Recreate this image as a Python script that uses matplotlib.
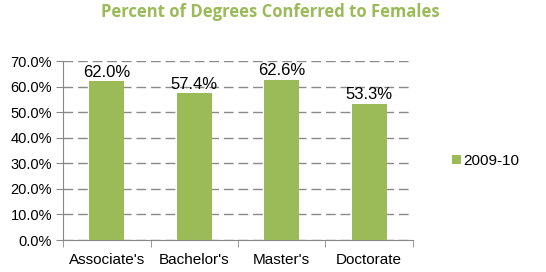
import numpy as np
import matplotlib
matplotlib.use("Agg")
import matplotlib.pyplot as plt
from matplotlib.ticker import FuncFormatter, FixedLocator

categories = ["Associate's", "Bachelor's", "Master's", "Doctorate"]
values = [62.0, 57.4, 62.6, 53.3]
series = "2009-10"
green = '#9bbb59'

plt.rcParams['font.family'] = ['Liberation Sans', 'DejaVu Sans']

fig = plt.figure(figsize=(5.46, 2.72), dpi=100)
ax = fig.add_axes([0.1154, 0.1176, 0.6410, 0.6581])

x = np.arange(len(categories))
bars = ax.bar(x, values, width=0.4, color=green, label=series, zorder=3)
for b, v in zip(bars, values):
    ax.text(b.get_x() + b.get_width() / 2, v + 0.6, f"{v:.1f}%",
            ha='center', va='bottom', fontsize=12, color='black', zorder=4)

ax.set_xlim(-0.5, len(categories) - 0.5)
ax.set_ylim(0, 70)
ax.set_yticks(np.arange(0, 71, 10))
ax.yaxis.set_major_formatter(FuncFormatter(lambda v, p: f"{v:.1f}%"))
ax.set_xticks(x)
ax.set_xticklabels(categories, fontsize=11)
ax.xaxis.set_minor_locator(FixedLocator(np.arange(-0.5, len(categories), 1)))
ax.tick_params(axis='x', which='major', length=0, pad=9)
ax.tick_params(axis='x', which='minor', length=5, color='#888888', direction='out')
ax.tick_params(axis='y', length=5, color='#888888', labelsize=10.5, pad=3)

ax.grid(axis='y', linestyle=(0, (7, 3.5)), color='#8a8a8a', linewidth=1, zorder=0)
for s in ['top', 'right']:
    ax.spines[s].set_visible(False)
ax.spines['left'].set_color('#888888')
ax.spines['bottom'].set_color('#888888')

fig.text(0.495, 0.955, "Percent of Degrees Conferred to Females", ha='center', va='center',
         fontsize=12, fontweight='bold', color=green, family=['Open Sans', 'DejaVu Sans'])

fig.legend(handles=[bars], labels=[series], loc='center left', bbox_to_anchor=(0.813, 0.408),
           frameon=False, fontsize=11, handlelength=0.6, handleheight=0.6, handletextpad=0.15,
           borderpad=0)

fig.savefig("out.png", dpi=100)
